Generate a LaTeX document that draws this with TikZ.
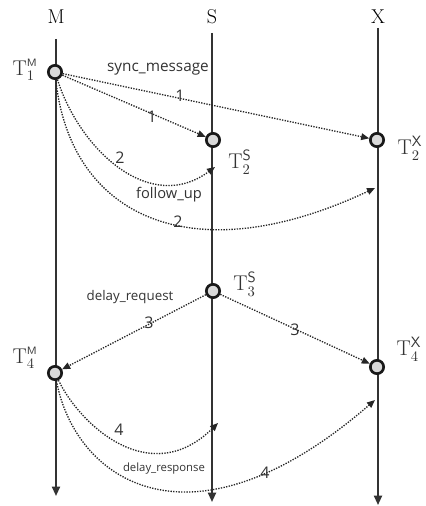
\documentclass[tikz,border=0pt]{standalone}
\usepackage{fontspec}
\newfontfamily\msgfont{Open Sans}
\usetikzlibrary{calc}
\usetikzlibrary{arrows.meta}

\begin{document}
\begin{tikzpicture}[x=0.75pt, y=-0.75pt]
            \tikzstyle{timeline} = [line width=1.4pt, color=black!80, -{Triangle[length=7pt, width=6pt]}]
            \tikzstyle{stamp} = [circle, draw=black!90, line width=2pt, fill=black!15, minimum size=10pt, inner sep=0pt]
            \tikzstyle{msg} = [densely dotted, line width=1pt, color=black!85, -{Triangle[length=6pt, width=5pt]}]
            \tikzstyle{party} = [font=\fontsize{15}{18}\selectfont]
            \tikzstyle{tlabel} = [font=\fontsize{16}{19}\selectfont, color=black!80, inner sep=1pt]
            \tikzstyle{num} = [font=\msgfont\fontsize{12}{14}\selectfont, color=black!80]
            \useasboundingbox (0, 0) rectangle (425, 506);
            % the three clocks
            \node[party] (M) at (56, 17) {M};
            \node[party] (S) at (212, 17) {S};
            \node[party] (X) at (378, 17) {X};
            \coordinate (Mtop) at (56, 39);
            \coordinate (Stop) at (212, 33);
            \coordinate (Xtop) at (378, 28);
            \coordinate (Mend) at (56, 496);
            \coordinate (Send) at (212, 502);
            \coordinate (Xend) at (378, 505);
            \draw[timeline] (Mtop) -- (Mend);
            \draw[timeline] (Stop) -- (Send);
            \draw[timeline] (Xtop) -- (Xend);
            % time stamps
            \node[stamp] (t1m) at (55, 72) {};
            \node[stamp] (t2s) at (213, 140) {};
            \node[stamp] (t2x) at (377, 140) {};
            \node[stamp] (t3s) at (213, 291) {};
            \node[stamp] (t4m) at (55, 373) {};
            \node[stamp] (t4x) at (377, 367) {};
            \node[tlabel] (l1m) at (25, 70) {$\mathrm{T}_1^{\mathsf{\scriptscriptstyle M}}$};
            \node[tlabel] (l2s) at (240, 162) {$\mathrm{T}_2^{\mathsf{S}}$};
            \node[tlabel] (l2x) at (410, 148) {$\mathrm{T}_2^{\mathsf{X}}$};
            \node[tlabel] (l3s) at (245, 284) {$\mathrm{T}_3^{\mathsf{S}}$};
            \node[tlabel] (l4m) at (25, 358) {$\mathrm{T}_4^{\mathsf{\scriptscriptstyle M}}$};
            \node[tlabel] (l4x) at (409, 349) {$\mathrm{T}_4^{\mathsf{X}}$};
            % arrival points of the follow-up and delay response messages
            \coordinate (s2) at (215, 167);
            \coordinate (x2) at (375, 188);
            \coordinate (s4) at (218, 423);
            \coordinate (x4) at (375, 400);
            % sync message
            \draw[msg] (t1m) -- (t2x);
            \draw[msg] (t1m) -- (t2s);
            \node[num] (n1a) at (180, 96) {1};
            \node[num] (n1b) at (152, 117) {1};
            \node[num, font=\msgfont\fontsize{11.5}{14}\selectfont] (sync) at (158, 69) {sync\_message};
            % follow up
            \draw[msg] (t1m) .. controls (80, 150) and (150, 215) .. (s2);
            \draw[msg] (t1m) .. controls (70, 215) and (190, 275) .. (x2);
            \node[num] (n2a) at (120, 158) {2};
            \node[num] (n2b) at (178, 222) {2};
            \node[num, font=\msgfont\fontsize{11}{13}\selectfont] (fup) at (169, 195) {follow\_up};
            % delay request
            \draw[msg] (t3s) -- (t4m);
            \draw[msg] (t3s) -- (t4x);
            \node[num] (n3a) at (149, 323) {3};
            \node[num] (n3b) at (295, 330) {3};
            \node[num, font=\msgfont\fontsize{10}{12}\selectfont] (dreq) at (130, 297) {delay\_request};
            % delay response
            \draw[msg] (t4m) .. controls (80, 425) and (150, 490) .. (s4);
            \draw[msg] (t4m) .. controls (75, 480) and (190, 560) .. (x4);
            \node[num] (n4a) at (119, 430) {4};
            \node[num] (n4b) at (265, 473) {4};
            \node[num, font=\msgfont\fontsize{8.5}{10}\selectfont] (dresp) at (164, 469) {delay\_response};
        \end{tikzpicture}
\end{document}
